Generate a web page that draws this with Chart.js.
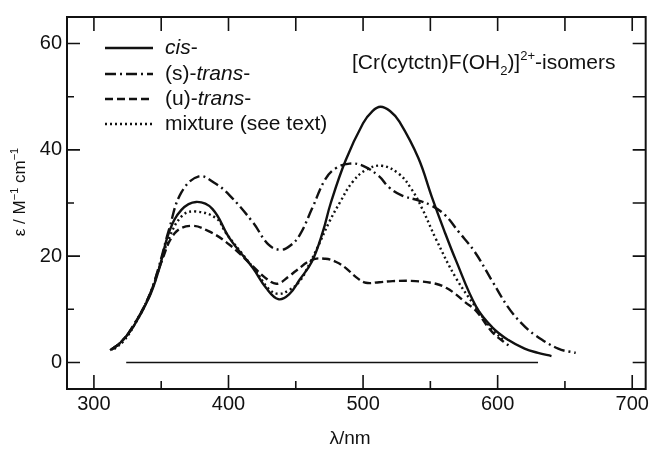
<!DOCTYPE html>
<html>
<head>
<meta charset="utf-8">
<script src="https://cdn.jsdelivr.net/npm/chart.js@4"></script>
<style>
  html, body { margin: 0; padding: 0; background: #fff; }
  canvas { display: block; }
</style>
</head>
<body>
<canvas id="chart" width="652" height="449"></canvas>
<script>
const FONT = "'Liberation Sans', Arial, sans-serif";
const INK = "#111";

// axis ticks
const xMajor = [300, 400, 500, 600, 700];
const xMinor = [350, 450, 550, 650];
const yMajor = [0, 20, 40, 60];
const yMinor = [10, 30, 50];

// cis-
const cisNm = [312, 320, 329, 341, 348, 356, 365, 376, 388, 401, 418, 428, 437, 445, 453, 462, 470, 476, 487, 500, 507, 513, 520, 527, 541, 551, 560, 569, 584, 596, 608, 620, 630, 640];
const cisEps = [2.3, 3.8, 6.6, 12.2, 17.2, 24.6, 28.7, 30.2, 28.9, 23.3, 17.8, 14.0, 11.9, 12.8, 15.6, 19.0, 24.5, 30.0, 38.0, 45.0, 47.3, 48.1, 47.3, 45.3, 38.5, 31.2, 25.0, 19.2, 10.5, 6.6, 4.2, 2.6, 1.8, 1.2];

// (s)-trans-
const sTransNm = [313, 320, 329, 341, 348, 356, 365, 378, 390, 401, 418, 430, 439, 446, 453, 462, 472, 480, 490, 500, 512, 519, 529, 541, 551, 561, 571, 583, 596, 608, 618, 628, 645, 658];
const sTransEps = [2.4, 3.8, 6.8, 12.5, 17.8, 25.2, 32.0, 35.0, 33.7, 31.4, 26.4, 22.1, 21.2, 22.0, 24.0, 28.9, 34.5, 36.6, 37.4, 37.0, 35.0, 33.0, 31.4, 30.5, 29.5, 27.7, 24.6, 20.8, 15.3, 10.3, 7.3, 5.1, 2.6, 1.8];

// (u)-trans-
const uTransNm = [313, 320, 329, 341, 350, 360, 372, 386, 401, 418, 428, 436, 445, 450, 462, 472, 480, 487, 495, 502, 512, 522, 539, 554, 562, 569, 576, 584, 596, 608];
const uTransEps = [2.4, 3.8, 6.8, 12.5, 18.8, 24.3, 25.7, 24.6, 22.1, 18.1, 15.8, 14.8, 16.2, 17.2, 19.3, 19.5, 18.9, 17.8, 16.0, 15.0, 15.1, 15.3, 15.3, 14.8, 14.0, 12.8, 11.3, 9.7, 5.7, 3.2];

// mixture
const mixNm = [315, 322, 330, 341, 348, 356, 366, 376, 391, 398, 410, 420, 430, 437, 445, 453, 460, 467, 475, 483, 492, 502, 514, 527, 536, 544, 554, 569, 584, 595, 605];
const mixEps = [2.5, 4.0, 7.0, 12.4, 17.3, 23.5, 27.7, 28.4, 27.1, 24.4, 20.5, 17.3, 13.8, 12.9, 13.6, 15.3, 18.5, 22.1, 26.5, 30.2, 33.9, 36.2, 37.0, 35.4, 32.6, 28.9, 23.3, 15.9, 10.3, 6.5, 4.0];

// zero line
const baseNm = [324, 630];
const baseEps = [0, 0];

// legend labels: [text, italic]
const cisLabel = [["cis", true], ["-", false]];
const sTransLabel = [["(s)-", false], ["trans", true], ["-", false]];
const uTransLabel = [["(u)-", false], ["trans", true], ["-", false]];
const mixLabel = [["mixture (see text)", false]];

function pts(xs, ys) {
  return xs.map((x, i) => ({ x: x, y: ys[i] }));
}

function curve(label, xs, ys, dash, parts) {
  return {
    label: label,
    data: pts(xs, ys),
    borderColor: INK,
    borderWidth: 2.4,
    borderDash: dash,
    pointRadius: 0,
    tension: 0.4,
    legendParts: parts,
  };
}

// rich text: parts are {t, it, sub, sup}
function fontFor(p, size) {
  const s = p.sub || p.sup ? Math.round(size * 0.64) : size;
  return (p.it ? "italic " : "") + s + "px " + FONT;
}
function richWidth(ctx, parts, size) {
  let w = 0;
  parts.forEach((p) => {
    ctx.font = fontFor(p, size);
    w += ctx.measureText(p.t).width;
  });
  return w;
}
function drawRich(ctx, parts, x, y, size) {
  let cx = x;
  parts.forEach((p) => {
    ctx.font = fontFor(p, size);
    const dy = p.sub ? size * 0.28 : p.sup ? -size * 0.42 : 0;
    ctx.fillText(p.t, cx, y + dy);
    cx += ctx.measureText(p.t).width;
  });
}

const decor = {
  id: "decor",
  afterDraw(chart) {
    const ctx = chart.ctx;
    const a = chart.chartArea;
    const xs = chart.scales.x;
    const ys = chart.scales.y;
    ctx.save();
    ctx.strokeStyle = INK;
    ctx.fillStyle = INK;

    // frame
    ctx.lineWidth = 2;
    ctx.strokeRect(a.left, a.top, a.right - a.left, a.bottom - a.top);

    // inward ticks
    ctx.lineWidth = 1.6;
    ctx.beginPath();
    xMajor.concat(xMinor).forEach((v) => {
      const px = xs.getPixelForValue(v);
      const len = xMajor.includes(v) ? 14 : 8;
      ctx.moveTo(px, a.bottom);
      ctx.lineTo(px, a.bottom - len);
      ctx.moveTo(px, a.top);
      ctx.lineTo(px, a.top + 14);
    });
    yMajor.concat(yMinor).forEach((v) => {
      const py = ys.getPixelForValue(v);
      const len = yMajor.includes(v) ? 13 : 7;
      ctx.moveTo(a.left, py);
      ctx.lineTo(a.left + len, py);
      ctx.moveTo(a.right, py);
      ctx.lineTo(a.right - 13, py);
    });
    ctx.stroke();

    // legend
    const rows = [48, 74, 99, 124];
    ctx.textBaseline = "alphabetic";
    ctx.textAlign = "left";
    chart.data.datasets.forEach((ds, i) => {
      if (!ds.legendParts) return;
      const y = rows[i];
      ctx.lineWidth = ds.borderWidth;
      ctx.setLineDash(ds.borderDash);
      ctx.beginPath();
      ctx.moveTo(105, y);
      ctx.lineTo(153, y);
      ctx.stroke();
      ctx.setLineDash([]);
      drawRich(ctx, ds.legendParts.map((p) => ({ t: p[0], it: p[1] })), 165, y + 6, 21);
    });

    // annotation
    drawRich(ctx, [
      { t: "[Cr(cytctn)F(OH" },
      { t: "2", sub: true },
      { t: ")]" },
      { t: "2+", sup: true },
      { t: "-isomers" },
    ], 352, 69, 21);

    // x title
    const xt = [{ t: "λ/nm" }];
    const xw = richWidth(ctx, xt, 19);
    drawRich(ctx, xt, 350 - xw / 2, 444, 19);

    // y title
    const yt = [
      { t: "ε / M" },
      { t: "−1", sup: true },
      { t: " cm" },
      { t: "−1", sup: true },
    ];
    ctx.translate(25, 192);
    ctx.rotate(-Math.PI / 2);
    const yw = richWidth(ctx, yt, 17);
    drawRich(ctx, yt, -yw / 2, 0, 17);
    ctx.restore();
  },
};

new Chart(document.getElementById("chart"), {
  type: "line",
  data: {
    datasets: [
      curve("cis-", cisNm, cisEps, [], cisLabel),
      curve("(s)-trans-", sTransNm, sTransEps, [11, 4, 2, 4], sTransLabel),
      curve("(u)-trans-", uTransNm, uTransEps, [8, 4], uTransLabel),
      curve("mixture (see text)", mixNm, mixEps, [2, 3], mixLabel),
      {
        label: "baseline",
        data: pts(baseNm, baseEps),
        borderColor: INK,
        borderWidth: 1.5,
        pointRadius: 0,
      },
    ],
  },
  options: {
    responsive: false,
    animation: false,
    events: [],
    layout: { padding: { top: 12, right: 4, left: 0, bottom: 0 } },
    plugins: {
      legend: { display: false },
      tooltip: { enabled: false },
    },
    scales: {
      x: {
        type: "linear",
        min: 280,
        max: 710,
        grid: { display: false, drawTicks: false },
        border: { display: false },
        afterBuildTicks: (s) => {
          s.ticks = xMajor.map((v) => ({ value: v }));
        },
        afterFit: (s) => {
          s.height = 60;
        },
        ticks: {
          padding: 3,
          color: INK,
          maxRotation: 0,
          font: { family: FONT, size: 20 },
        },
      },
      y: {
        type: "linear",
        min: -5,
        max: 65,
        grid: { display: false, drawTicks: false },
        border: { display: false },
        afterBuildTicks: (s) => {
          s.ticks = yMajor.map((v) => ({ value: v }));
        },
        afterFit: (s) => {
          s.width = 67;
        },
        ticks: {
          padding: 5,
          color: INK,
          font: { family: FONT, size: 20 },
        },
      },
    },
  },
  plugins: [decor],
});
</script>
</body>
</html>
